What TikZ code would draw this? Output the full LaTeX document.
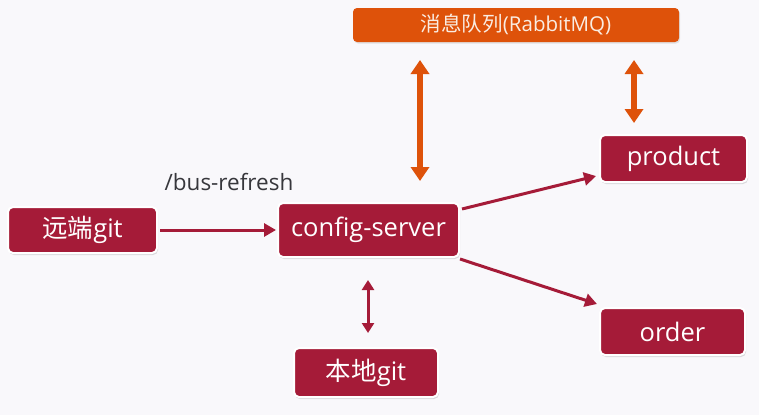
\documentclass[tikz,border=0pt]{standalone}
\usepackage{fontspec}
\setmainfont{Open Sans}
\newfontfamily\cjk{Noto Sans CJK SC}
\usetikzlibrary{arrows.meta,shadows}
\definecolor{crim}{RGB}{165,27,56}
\definecolor{org}{RGB}{222,82,10}
\definecolor{bg}{RGB}{249,248,251}
\definecolor{lbl}{RGB}{55,55,60}
\begin{document}
\begin{tikzpicture}[x=1pt,y=-1pt,
  box/.style={draw=white,line width=2pt,fill=crim,rounded corners=5pt,text=white,
    font=\fontsize{25.5}{28}\selectfont,inner sep=0pt,
    drop shadow={shadow xshift=1pt,shadow yshift=-2pt,opacity=0.25}},
  mqbox/.style={fill=org,rounded corners=4pt,text={rgb,255:red,250;green,236;blue,226},
    font=\fontsize{20.5}{23}\selectfont,inner sep=0pt,minimum width=326pt,minimum height=34pt,
    drop shadow={shadow xshift=1pt,shadow yshift=-1.5pt,opacity=0.2}},
  carrow/.style={draw=crim,line width=3pt,-{Triangle[length=12pt,width=13pt]}},
  cdouble/.style={draw=crim,line width=3pt,{Triangle[length=10pt,width=12pt]}-{Triangle[length=10pt,width=12pt]}},
  odouble/.style={draw=org,line width=6pt,{Triangle[length=14pt,width=18pt]}-{Triangle[length=14pt,width=18pt]}}
]
\fill[bg] (0,0) rectangle (759,415);
\useasboundingbox (0,0) rectangle (759,415);

\node[mqbox] (mq) at (516,25) {\cjk 消息队列\rmfamily(RabbitMQ)};
\node[box,minimum width=149pt,minimum height=46pt] (remote) at (82.5,230) {\cjk 远端\rmfamily git};
\node[box,minimum width=181pt,minimum height=54pt] (config) at (368.5,230) {config-server};
\node[box,minimum width=147pt,minimum height=47pt] (product) at (673.5,158.5) {product};
\node[box,minimum width=145pt,minimum height=47pt] (order) at (672.5,331.5) {order};
\node[box,minimum width=144pt,minimum height=49pt] (local) at (366,372.5) {\cjk 本地\rmfamily git};

\node[text=lbl,font=\fontsize{22.5}{26}\selectfont] (bus) at (229,182) {/bus-refresh};

\coordinate (o1a) at (420,60);
\coordinate (o1b) at (420,181);
\coordinate (o2a) at (634,60);
\coordinate (o2b) at (634,123);

\draw[carrow,shorten <=2pt,shorten >=1pt] (remote.east) -- (config.west);
\draw[carrow] ([yshift=-7pt,xshift=2pt]config.north east) -- ([xshift=-3pt,yshift=7pt]product.south west);
\draw[carrow] ([xshift=0pt,yshift=-1pt]config.south east) -- ([xshift=-2pt,yshift=3pt]order.north west);
\draw[cdouble,shorten <=22pt,shorten >=14pt] ([xshift=-0.5pt]config.south) -- ([xshift=2pt]local.north);
\draw[odouble] (o1a) -- (o1b);
\draw[odouble] (o2a) -- (o2b);
\end{tikzpicture}
\end{document}
